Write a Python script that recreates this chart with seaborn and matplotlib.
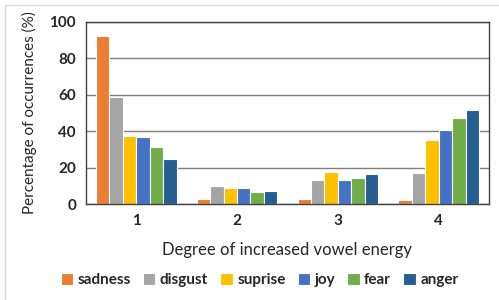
import pandas as pd
import matplotlib.pyplot as plt
import seaborn as sns
from matplotlib.patches import Rectangle

# values
degrees = ['1', '2', '3', '4']
emotions = ['sadness', 'disgust', 'suprise', 'joy', 'fear', 'anger']
sadness = [92.3, 2.6, 2.6, 2.0]
disgust = [59.0, 10.0, 13.0, 16.8]
suprise = [37.5, 8.6, 17.4, 35.3]
joy = [36.6, 8.6, 13.4, 40.5]
fear = [31.3, 6.4, 14.1, 47.3]
anger = [24.5, 7.0, 16.3, 51.5]
colors = ['#ED7D31', '#A5A5A5', '#FFC000', '#4472C4', '#70AD47', '#255E91']

series = [sadness, disgust, suprise, joy, fear, anger]
rows = []
for emo, vals in zip(emotions, series):
    for d, v in zip(degrees, vals):
        rows.append({'Degree': d, 'Emotion': emo, 'Value': v})
df = pd.DataFrame(rows)

sns.set_style('white')
plt.rcParams['font.family'] = ['Lato', 'DejaVu Sans']

fig = plt.figure(figsize=(4.99, 3.0), dpi=100)
ax = fig.add_axes([0.172, 0.32, 0.808, 0.607])

sns.barplot(data=df, x='Degree', y='Value', hue='Emotion', order=degrees,
            hue_order=emotions, palette=colors, width=0.8, saturation=1,
            edgecolor='white', linewidth=0.8, ax=ax, legend=True)

ax.set_ylim(0, 100)
ax.set_yticks([0, 20, 40, 60, 80, 100])
ax.yaxis.grid(True, color='#7f7f7f', linewidth=1)
ax.set_axisbelow(True)
for s in ax.spines.values():
    s.set_color('#404040')
    s.set_linewidth(1)
ax.tick_params(axis='both', length=0, labelsize=11, pad=7)
for lbl in ax.get_xticklabels() + ax.get_yticklabels():
    lbl.set_fontweight('bold')

ax.set_ylabel('Percentage of occurrences (%)', fontsize=11, labelpad=9)
ax.set_xlabel('Degree of increased vowel energy', fontsize=12, labelpad=10)

handles, labels = ax.get_legend_handles_labels()
ax.legend_.remove()
fig.legend(handles, labels, loc='center', bbox_to_anchor=(0.52, 0.067), ncol=6,
           frameon=False, prop={'weight': 'bold', 'size': 11},
           handlelength=0.8, handleheight=0.8, handletextpad=0.3, columnspacing=0.8)

fig.patches.append(Rectangle((0.01, -0.05), 1.2, 1.033, transform=fig.transFigure,
                             fill=False, edgecolor='#d9d9d9', linewidth=1))

fig.savefig('out.png', dpi=100)
